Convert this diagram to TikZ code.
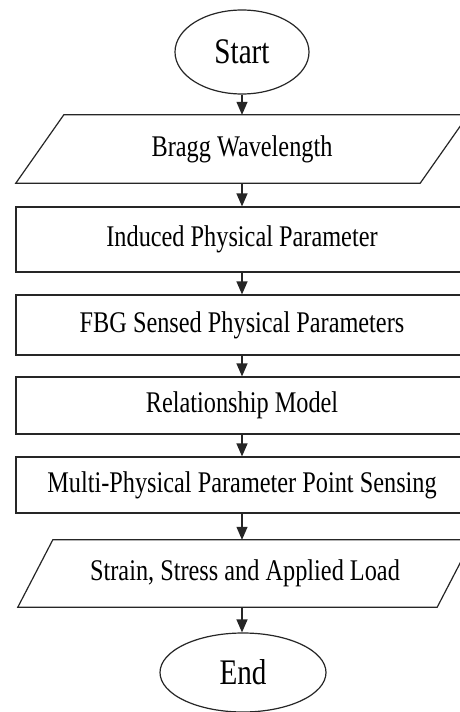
\documentclass[tikz,border=0pt]{standalone}
\usepackage{fontspec}
\setmainfont[FakeStretch=0.81]{Liberation Serif}
\usetikzlibrary{shapes.geometric,arrows.meta}
\tikzset{
  line/.style={line width=1.2pt, draw=black!85},
  conn/.style={line, -{Triangle[length=13pt,width=11pt]}},
  term/.style={ellipse, line, inner sep=0pt, font=\fontsize{36}{40}\selectfont},
  proc/.style={rectangle, line, inner sep=0pt, minimum width=452pt, font=\fontsize{30}{36}\selectfont},
  iotext/.style={rectangle, draw=none, inner sep=0pt, font=\fontsize{30}{36}\selectfont}
}
\begin{document}
\begin{tikzpicture}[x=1pt,y=-1pt]
\useasboundingbox (0,0) rectangle (460,712);
\fill[white] (0,0) rectangle (460,712);
\node[term, minimum width=134pt, minimum height=84pt] (start) at (242,52) {Start};
\node[iotext, minimum width=404pt, minimum height=68pt] (bragg) at (242,149) {Bragg Wavelength};
\draw[line] ([xshift=24pt]bragg.north west) -- ([xshift=24pt]bragg.north east) -- ([xshift=-24pt]bragg.south east) -- ([xshift=-24pt]bragg.south west) -- cycle;
\node[proc, minimum height=65pt] (induced) at (242,239.5) {Induced Physical Parameter};
\node[proc, minimum height=60pt] (fbg) at (242,325) {FBG Sensed Physical Parameters};
\node[proc, minimum height=57pt] (rel) at (242,405.5) {Relationship Model};
\node[proc, minimum height=56pt] (multi) at (242,485) {Multi-Physical Parameter Point Sensing};
\node[iotext, minimum width=419pt, minimum height=67pt] (strain) at (245,573.5) {Strain, Stress and Applied Load};
\draw[line] ([xshift=17.5pt]strain.north west) -- ([xshift=17.5pt]strain.north east) -- ([xshift=-17.5pt]strain.south east) -- ([xshift=-17.5pt]strain.south west) -- cycle;
\node[term, minimum width=166pt, minimum height=79pt] (end) at (243,672.5) {End};
\draw[conn] (start.south) -- (bragg.north -| start.south);
\draw[conn] (bragg.south -| start.south) -- (induced.north);
\draw[conn] (induced.south) -- (fbg.north);
\draw[conn] (fbg.south) -- (rel.north);
\draw[conn] (rel.south) -- (multi.north);
\draw[conn] (multi.south) -- (strain.north -| multi.south);
\draw[conn] (strain.south -| multi.south) -- (end.north -| multi.south);
\end{tikzpicture}
\end{document}
